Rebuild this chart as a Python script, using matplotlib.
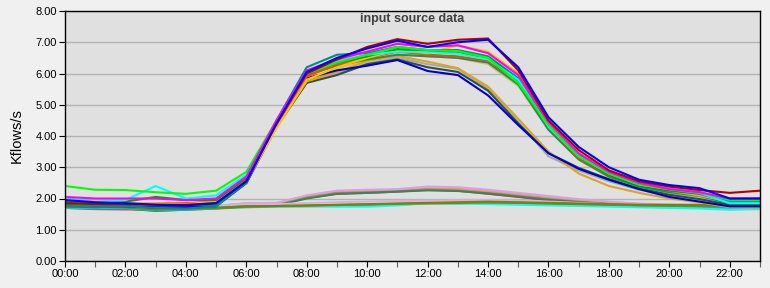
import matplotlib
matplotlib.use("Agg")
import matplotlib.pyplot as plt
from matplotlib.ticker import MultipleLocator, FuncFormatter

hours = list(range(24))
tick_labels = ["%02d:00" % h for h in range(0, 24, 2)]

# upper (daytime) group
s_darkred = [1.85,1.82,1.82,1.80,1.80,1.85,2.55,4.40,6.00,6.45,6.85,7.10,6.95,7.08,7.12,6.10,4.50,3.55,2.90,2.55,2.38,2.27,2.18,2.25]
s_blue = [1.95,1.88,1.85,1.80,1.78,1.85,2.55,4.40,6.05,6.50,6.80,7.05,6.85,7.00,7.08,6.20,4.60,3.65,3.00,2.60,2.43,2.33,2.00,2.00]
s_teal = [1.75,1.72,1.75,1.70,1.68,1.75,2.50,4.50,6.20,6.60,6.65,6.85,6.75,6.75,6.55,5.85,4.35,3.40,2.85,2.50,2.30,2.15,1.90,1.85]
s_magenta = [2.05,2.00,2.00,2.00,1.95,2.00,2.70,4.50,6.10,6.45,6.70,6.95,6.85,6.90,6.65,5.95,4.45,3.45,2.85,2.50,2.30,2.20,2.00,2.00]
s_lime = [2.40,2.28,2.27,2.20,2.15,2.25,2.85,4.50,6.00,6.35,6.60,6.85,6.75,6.72,6.50,5.70,4.35,3.35,2.80,2.45,2.30,2.20,1.95,1.95]
s_cyan = [2.00,1.90,1.95,2.40,2.00,2.10,2.75,4.45,6.05,6.40,6.60,6.70,6.68,6.62,6.45,5.80,4.30,3.35,2.80,2.45,2.30,2.18,1.85,1.85]
s_orangered = [1.90,1.85,1.85,1.85,1.85,1.90,2.60,4.35,5.90,6.30,6.50,6.70,6.60,6.55,6.40,5.75,4.30,3.30,2.75,2.45,2.25,2.15,1.90,1.90]
s_gold = [1.88,1.82,1.85,1.85,1.82,1.90,2.55,4.25,5.80,6.20,6.50,6.75,6.65,6.90,6.70,6.00,4.40,3.40,2.80,2.45,2.25,2.10,1.90,1.90]
s_green = [1.90,1.85,1.90,2.05,1.95,1.95,2.65,4.45,6.00,6.35,6.55,6.78,6.70,6.70,6.45,5.75,4.30,3.35,2.75,2.40,2.25,2.15,1.90,1.90]
s_seagreen = [1.80,1.78,1.80,1.85,1.80,1.80,2.55,4.40,5.95,6.25,6.45,6.60,6.55,6.50,6.35,5.65,4.20,3.25,2.70,2.38,2.20,2.08,1.85,1.85]
s_slategray = [1.80,1.75,1.75,1.70,1.70,1.75,2.50,4.30,5.70,5.95,6.30,6.45,6.20,6.05,5.45,4.40,3.45,2.98,2.62,2.32,2.12,1.98,1.80,1.80]
s_blue2 = [1.78,1.75,1.75,1.72,1.72,1.78,2.50,4.35,5.85,6.10,6.25,6.43,6.08,5.95,5.30,4.35,3.45,2.95,2.60,2.30,2.05,1.90,1.75,1.75]
s_goldenrod = [1.82,1.78,1.78,1.75,1.75,1.80,2.50,4.30,5.75,6.05,6.40,6.56,6.38,6.17,5.58,4.55,3.50,2.80,2.40,2.18,2.00,1.88,1.72,1.70]
s_silver = [1.78,1.74,1.74,1.70,1.70,1.76,2.48,4.28,5.72,6.00,6.32,6.50,6.30,6.15,5.50,4.45,3.35,2.90,2.55,2.28,2.10,1.95,1.78,1.78]
s_khaki = [1.85,1.80,1.82,1.80,1.80,1.85,2.52,4.30,5.78,6.15,6.45,6.62,6.55,6.50,6.30,5.60,4.20,3.25,2.68,2.35,2.18,2.05,1.85,1.85]

# lower group, rising mid-day
l_plum = [1.75,1.72,1.70,1.68,1.70,1.75,1.82,1.85,2.08,2.22,2.25,2.28,2.35,2.33,2.25,2.15,2.05,1.95,1.88,1.82,1.78,1.75,1.72,1.72]
l_deeppink = [1.70,1.66,1.65,1.65,1.66,1.72,1.80,1.80,2.02,2.15,2.18,2.22,2.28,2.25,2.15,2.05,1.95,1.88,1.82,1.78,1.74,1.70,1.68,1.68]
l_salmon = [1.73,1.70,1.70,1.68,1.70,1.74,1.82,1.82,2.05,2.18,2.22,2.25,2.30,2.30,2.22,2.12,2.02,1.92,1.85,1.80,1.76,1.72,1.70,1.70]
l_peru = [1.78,1.76,1.75,1.70,1.72,1.76,1.84,1.84,2.06,2.19,2.20,2.24,2.29,2.26,2.18,2.08,1.98,1.90,1.84,1.79,1.75,1.72,1.70,1.70]
l_seagreen = [1.72,1.70,1.68,1.60,1.64,1.68,1.75,1.78,2.00,2.15,2.18,2.22,2.26,2.24,2.16,2.06,1.96,1.88,1.82,1.77,1.73,1.70,1.68,1.68]
l_violet = [1.76,1.74,1.72,1.72,1.72,1.76,1.85,1.86,2.10,2.25,2.28,2.30,2.38,2.36,2.28,2.18,2.08,1.98,1.90,1.84,1.80,1.76,1.74,1.74]

# lower group, flat
f_cyan = [1.72,1.72,1.72,1.70,1.70,1.72,1.75,1.75,1.76,1.74,1.74,1.78,1.86,1.84,1.82,1.80,1.78,1.76,1.74,1.72,1.70,1.68,1.64,1.66]
f_olive = [1.75,1.74,1.72,1.65,1.68,1.70,1.75,1.76,1.78,1.80,1.82,1.84,1.86,1.88,1.90,1.88,1.86,1.84,1.82,1.80,1.80,1.80,1.76,1.74]
f_olivedrab = [1.74,1.73,1.72,1.66,1.68,1.70,1.74,1.76,1.77,1.79,1.81,1.83,1.85,1.86,1.87,1.86,1.84,1.82,1.80,1.78,1.77,1.76,1.74,1.73]
f_thistle = [1.78,1.76,1.76,1.74,1.74,1.78,1.82,1.82,1.85,1.88,1.90,1.92,1.93,1.94,1.95,1.93,1.90,1.86,1.82,1.78,1.74,1.72,1.70,1.70]
f_lightseagreen = [1.70,1.68,1.68,1.62,1.64,1.68,1.72,1.74,1.75,1.76,1.78,1.80,1.84,1.84,1.85,1.84,1.82,1.80,1.78,1.76,1.74,1.72,1.70,1.70]

low_series = [
    (l_plum, "#dda0dd"), (l_deeppink, "#ff1493"), (l_salmon, "#e9967a"),
    (l_peru, "#cd853f"), (l_seagreen, "#2e8b57"), (l_violet, "#d8a0e0"),
    (f_thistle, "#d8b0e0"), (f_lightseagreen, "#20b2aa"), (f_cyan, "#00ffff"),
    (f_olivedrab, "#6b8e23"), (f_olive, "#808000"),
]
high_series = [
    (s_silver, "#a8a8a8"), (s_khaki, "#d0c080"), (s_slategray, "#2f4f4f"),
    (s_goldenrod, "#daa520"), (s_blue2, "#0000cd"), (s_seagreen, "#2e8b57"),
    (s_orangered, "#ff4500"), (s_gold, "#ffc000"), (s_green, "#00a000"),
    (s_teal, "#008b8b"), (s_cyan, "#00ffff"), (s_lime, "#00ff00"),
    (s_magenta, "#ff00ff"), (s_darkred, "#b00000"), (s_blue, "#0000ff"),
]

fig = plt.figure(figsize=(7.7, 2.88), dpi=100, facecolor="#f0f0f0")
ax = fig.add_axes([65/770, 1-261/288, 695/770, 250/288])
ax.set_facecolor("#e0e0e0")

for vals, c in low_series + high_series:
    ax.plot(hours, vals, color=c, lw=1.5, solid_joinstyle="miter")

ax.set_xlim(0, 23)
ax.set_ylim(0, 8)
ax.xaxis.set_minor_locator(MultipleLocator(1))
ax.set_xticks(list(range(0, 24, 2)))
ax.set_xticklabels(tick_labels)
ax.yaxis.set_major_locator(MultipleLocator(1))
ax.yaxis.set_major_formatter(FuncFormatter(lambda v, p: "%.2f" % v))
ax.grid(axis="y", color="#b4b4b4", lw=1)
ax.set_axisbelow(True)
for lab in ax.get_xticklabels() + ax.get_yticklabels():
    lab.set_fontfamily("Liberation Sans")
    lab.set_fontsize(8)
ax.tick_params(axis="both", which="major", length=4, width=0.8, direction="out", pad=2, colors="black")
ax.tick_params(axis="x", which="minor", length=4, width=0.8, direction="out", color="#606060")
for sp in ax.spines.values():
    sp.set_color("black")
    sp.set_linewidth(1)

ax.set_ylabel("Kflows/s", fontfamily="Liberation Sans", fontsize=10.5, labelpad=8)
ax.text(0.5, 0.968, "input source data", transform=ax.transAxes, ha="center", va="center",
        fontfamily="Liberation Sans", fontweight="bold", fontsize=9, color="#404040")

fig.savefig("out.png", dpi=100, facecolor=fig.get_facecolor())
